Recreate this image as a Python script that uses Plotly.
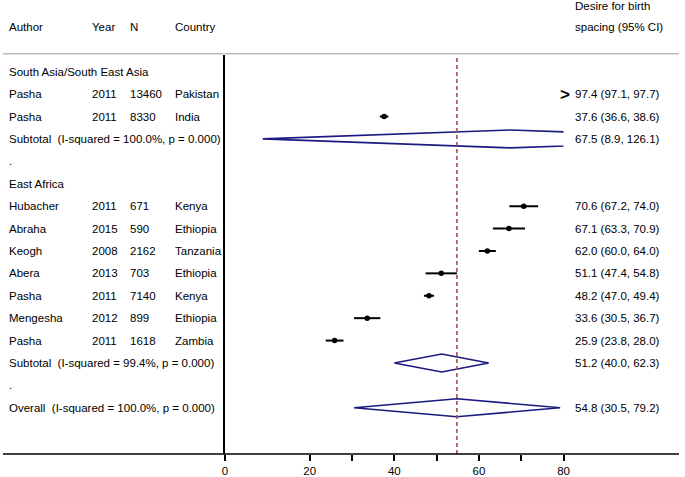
import plotly.graph_objects as go

# ---------------- data ----------------
group1_label = "South Asia/South East Asia"
group2_label = "East Africa"

authors   = ["Pasha", "Pasha", "Hubacher", "Abraha", "Keogh", "Abera", "Pasha", "Mengesha", "Pasha"]
years     = ["2011", "2011", "2011", "2015", "2008", "2013", "2011", "2012", "2011"]
sizes     = ["13460", "8330", "671", "590", "2162", "703", "7140", "899", "1618"]
countries = ["Pakistan", "India", "Kenya", "Ethiopia", "Tanzania", "Ethiopia", "Kenya", "Ethiopia", "Zambia"]
est = [97.4, 37.6, 70.6, 67.1, 62.0, 51.1, 48.2, 33.6, 25.9]
lo  = [97.1, 36.6, 67.2, 63.3, 60.0, 47.4, 47.0, 30.5, 23.8]
hi  = [97.7, 38.6, 74.0, 70.9, 64.0, 54.8, 49.4, 36.7, 28.0]
study_rows = [1, 2, 6, 7, 8, 9, 10, 11, 12]

pooled_labels = ["Subtotal&nbsp; (I-squared = 100.0%, p = 0.000)",
                 "Subtotal&nbsp; (I-squared = 99.4%, p = 0.000)",
                 "Overall&nbsp; (I-squared = 100.0%, p = 0.000)"]
pooled_est = [67.5, 51.2, 54.8]
pooled_lo  = [8.9, 40.0, 30.5]
pooled_hi  = [126.1, 62.3, 79.2]
pooled_rows = [3, 13, 15]

group_rows = [0, 5]
dot_rows = [4, 14]

x_tickvals = [0, 20, 30, 40, 50, 60, 70, 80]
x_ticktext = ["0", "20", "", "40", "", "60", "", "80"]
x_max = 80

# ---------------- layout helpers ----------------
W, H = 685, 477
FONT = "Liberation Sans, Arial, Helvetica, sans-serif"
FS = 11.5
row0_px, row_step = 72, 22.5
top_px, bottom_px = 55, 456


def px_to_row(p):
    return (p - row0_px) / row_step


col_x = {"author": 4, "year": 88, "n": 127, "country": 172, "right": 578}

fig = go.Figure()

# CI lines
for r, l, h in zip(study_rows, lo, hi):
    fig.add_trace(go.Scatter(x=[l, h], y=[r, r], mode="lines",
                             line=dict(color="black", width=2),
                             showlegend=False, hoverinfo="skip"))
# point estimates
fig.add_trace(go.Scatter(x=est, y=study_rows, mode="markers",
                         marker=dict(color="black", size=5.5),
                         showlegend=False))

# diamonds
for r, e, l, h in zip(pooled_rows, pooled_est, pooled_lo, pooled_hi):
    fig.add_trace(go.Scatter(x=[l, e, h, e, l], y=[r, r - 0.4, r, r + 0.4, r],
                             mode="lines", line=dict(color="#1a1a80", width=1.6),
                             showlegend=False, hoverinfo="skip"))

# overall reference line
fig.add_shape(type="line", xref="x", yref="y domain",
              x0=pooled_est[-1], x1=pooled_est[-1], y0=0, y1=0.992,
              line=dict(color="#b04a4a", width=1.6, dash="4px,3px"))

# header separator (grey) and full-width bottom axis line
fig.add_shape(type="line", xref="paper", yref="paper", x0=0, x1=1,
              y0=1 - 54 / H, y1=1 - 54 / H, line=dict(color="#bdbdbd", width=1.5))
fig.add_shape(type="line", xref="paper", yref="paper", x0=0, x1=1,
              y0=1 - bottom_px / H, y1=1 - bottom_px / H, line=dict(color="black", width=1.5))

annotations = []


def txt(x_px, row, text, size=FS):
    annotations.append(dict(x=x_px / W, xref="paper", y=row, yref="y", text=text,
                            showarrow=False, xanchor="left", yanchor="middle",
                            font=dict(family=FONT, size=size, color="black")))


def head(x_px, y_px, text, size=FS):
    annotations.append(dict(x=x_px / W, xref="paper", y=1 - y_px / H, yref="paper", text=text,
                            showarrow=False, xanchor="left", yanchor="middle",
                            font=dict(family=FONT, size=size, color="black")))


# headers
head(col_x["author"], 27, "Author")
head(col_x["year"], 27, "Year")
head(col_x["n"], 27, "N")
head(col_x["country"], 27, "Country")
head(col_x["right"], 6, "Desire for birth")
head(col_x["right"], 27, "spacing (95% CI)")

txt(col_x["author"], group_rows[0], group1_label)
txt(col_x["author"], group_rows[1], group2_label)
for r in dot_rows:
    txt(col_x["author"], r, ".")

for i, r in enumerate(study_rows):
    txt(col_x["author"], r, authors[i])
    txt(col_x["year"], r, years[i])
    txt(col_x["n"], r, sizes[i])
    txt(col_x["country"], r, countries[i])
    txt(col_x["right"], r, f"{est[i]:.1f} ({lo[i]:.1f}, {hi[i]:.1f})")
    if hi[i] > x_max:
        annotations.append(dict(x=x_max, xref="x", y=r, yref="y", text="<b>&gt;</b>",
                                showarrow=False, xanchor="right", yanchor="middle",
                                xshift=8,
                                font=dict(family=FONT, size=17, color="black")))

for i, r in enumerate(pooled_rows):
    txt(col_x["author"], r, pooled_labels[i])
    txt(col_x["right"], r, f"{pooled_est[i]:.1f} ({pooled_lo[i]:.1f}, {pooled_hi[i]:.1f})")

fig.update_layout(
    width=W, height=H,
    margin=dict(l=0, r=0, t=0, b=0),
    paper_bgcolor="white", plot_bgcolor="white",
    showlegend=False,
    annotations=annotations,
    xaxis=dict(domain=[225 / W, 568 / W], range=[0, x_max],
               tickvals=x_tickvals, ticktext=x_ticktext,
               ticks="outside", ticklen=6, tickwidth=1.5, tickcolor="black",
               showgrid=False, zeroline=False, showline=False,
               tickfont=dict(family=FONT, size=FS, color="black")),
    yaxis=dict(domain=[1 - bottom_px / H, 1 - top_px / H],
               range=[px_to_row(bottom_px), px_to_row(top_px)],
               showgrid=False, zeroline=False, showticklabels=False,
               showline=True, linecolor="black", linewidth=1.5, ticks=""),
)

fig.write_html("out.html", config={"displayModeBar": False},
               post_script="document.body.style.margin='0';document.body.style.padding='0';")
